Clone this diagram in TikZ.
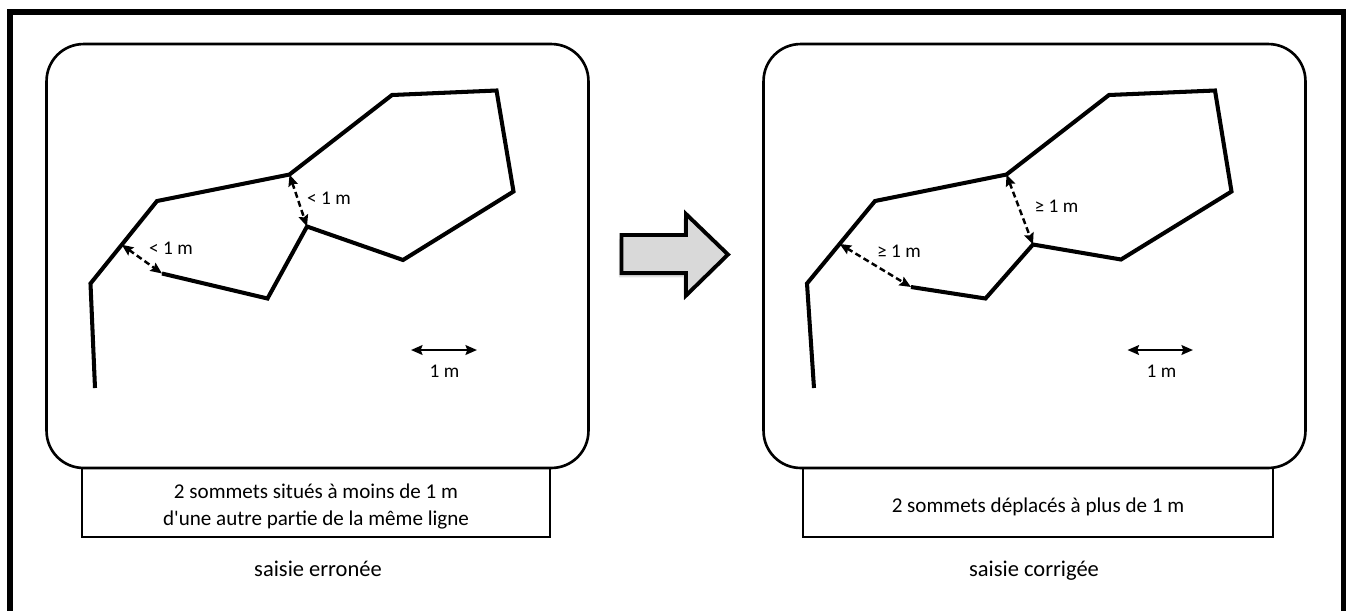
\documentclass[tikz,border=0pt]{standalone}
\usepackage{fontspec}
\setmainfont{Carlito}
\usetikzlibrary{arrows.meta,calc,shadows}

\tikzset{
  frame/.style={line width=3.4pt},
  panel/.style={draw, line width=1.5pt, rounded corners=0.74cm,
    minimum width=10.84cm, minimum height=8.48cm},
  legend/.style={draw, line width=1.5pt, minimum height=1.38cm},
  legtext/.style={align=center, font=\fontsize{12}{15.3}\selectfont},
  note/.style={anchor=base, font=\fontsize{12.8}{14}\selectfont},
  dist/.style={font=\fontsize{11}{12}\selectfont, inner sep=1pt},
  trace/.style={line width=2.3pt, line join=miter},
  gap/.style={line width=1.4pt, dash pattern=on 3.4pt off 2pt, <->},
  ruler/.style={line width=1.4pt, <->},
  bigarrow/.style={fill=black!15, line width=2.2pt, line join=miter,
    drop shadow={shadow xshift=-1.5pt, shadow yshift=-2.5pt, opacity=.25},
    drop shadow={shadow xshift=-0.8pt, shadow yshift=-1.5pt, opacity=.35}}
}

\begin{document}
\begin{tikzpicture}[x=0.02cm, y=-0.02cm, >={Stealth[length=6.5pt,width=5.5pt,inset=1pt]}]
\useasboundingbox (0,0) rectangle (1346,610);
\draw[frame] (10,12) rectangle (1344,625);

% the two panels
\node[panel] (boxL) at (317.5,256) {};
\node[panel] (boxR) at (1034.5,256) {};
\node[legend, minimum width=9.36cm] (capL) at (316,502.5) {};
\node[legend, minimum width=9.4cm] (capR) at (1038,502.5) {};
\node[legtext] (txtL) at ($(capL.center)+(0,4)$)
  {2 sommets situés à moins de 1 m\\d\textquotesingle une autre partie de la même ligne};
\node[legtext] (txtR) at ($(capR.center)+(0,4)$)
  {2 sommets déplacés à plus de 1 m};
\node[note] (tagL) at (318,576.5) {saisie erronée};
\node[note] (tagR) at (1034,576.5) {saisie corrigée};

% saisie erronee
\coordinate (L1) at (95,388);
\coordinate (L2) at (90.5,283.5);
\coordinate (L3) at (157,201);
\coordinate (L4) at (289.5,174.5);
\coordinate (L5) at (392,95);
\coordinate (L6) at (496.5,90.5);
\coordinate (L7) at (513.5,191.5);
\coordinate (L8) at (403,260);
\coordinate (L9) at (307,226.5);
\coordinate (L10) at (267.5,298.5);
\coordinate (L11) at (162,273.5);
\coordinate (Lp) at ($(L2)!.47!(L3)$);
\draw[trace] (L1) -- (L2) -- (L3) -- (L4) -- (L5) -- (L6) -- (L7)
  -- (L8) -- (L9) -- (L10) -- (L11);
\draw[gap] (Lp) -- (L11);
\draw[gap] (L4) -- (L9);
\node[dist] (dL1) at (171,248) {< 1 m};
\node[dist] (dL2) at (329,198) {< 1 m};
\coordinate (sL1) at (411,350);
\coordinate (sL2) at (477,350);
\draw[ruler] (sL1) -- (sL2);
\node[dist] (mL) at (444.5,371.5) {1 m};

% saisie corrigee
\coordinate (R1) at (814,388);
\coordinate (R2) at (807,283.5);
\coordinate (R3) at (875,201);
\coordinate (R4) at (1006.5,174.5);
\coordinate (R5) at (1109,95);
\coordinate (R6) at (1215,90.5);
\coordinate (R7) at (1231.5,191.5);
\coordinate (R8) at (1121,259.5);
\coordinate (R9) at (1033,244.5);
\coordinate (R10) at (985.5,298.5);
\coordinate (R11) at (911,287);
\coordinate (Rp) at ($(R2)!.48!(R3)$);
\draw[trace] (R1) -- (R2) -- (R3) -- (R4) -- (R5) -- (R6) -- (R7)
  -- (R8) -- (R9) -- (R10) -- (R11);
\draw[gap] (Rp) -- (R11);
\draw[gap] (R4) -- (R9);
\node[dist] (dR1) at (899,251) {≥ 1 m};
\node[dist] (dR2) at (1056.5,206.5) {≥ 1 m};
\coordinate (sR1) at (1127.5,350);
\coordinate (sR2) at (1193,350);
\draw[ruler] (sR1) -- (sR2);
\node[dist] (mR) at (1161.5,371.5) {1 m};

% big arrow
\coordinate (a1) at (621.5,235);
\coordinate (a2) at (686,235);
\coordinate (a3) at (686,214);
\coordinate (a4) at (728,254.5);
\coordinate (a5) at (686,295.5);
\coordinate (a6) at (686,273);
\coordinate (a7) at (621.5,273);
\draw[bigarrow] (a1) -- (a2) -- (a3) -- (a4) -- (a5) -- (a6) -- (a7) -- cycle;
\end{tikzpicture}
\end{document}
